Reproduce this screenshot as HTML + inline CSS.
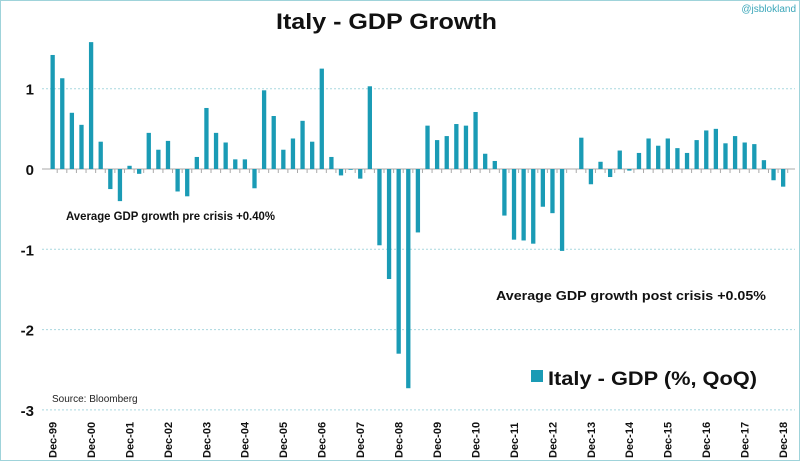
<!DOCTYPE html>
<html><head><meta charset="utf-8"><style>
body{margin:0;background:#fff;}
svg{display:block;font-family:"Liberation Sans",sans-serif;}
</style></head><body>
<svg id="c" width="800" height="461">
<rect x="0.5" y="0.5" width="799" height="460" fill="#fff" stroke="#9fd3da"/>
<text x="276" y="29" font-size="22" font-weight="bold" fill="#111" textLength="221" lengthAdjust="spacingAndGlyphs">Italy - GDP Growth</text>
<text x="796" y="12" text-anchor="end" font-size="10" fill="#3aa6b9">@jsblokland</text>
<g id="grid"></g><g id="bars"></g><g id="xl"></g>
<text x="66" y="220" font-size="12" font-weight="bold" fill="#111" textLength="209" lengthAdjust="spacingAndGlyphs">Average GDP growth pre crisis +0.40%</text>
<text x="496" y="300" font-size="12.5" font-weight="bold" fill="#111" textLength="270" lengthAdjust="spacingAndGlyphs">Average GDP growth post crisis +0.05%</text>
<rect x="531" y="370" width="12" height="12" fill="#1a9bb5"/>
<text x="548" y="385" font-size="19" font-weight="bold" fill="#111" textLength="209" lengthAdjust="spacingAndGlyphs">Italy - GDP (%, QoQ)</text>
<text x="52" y="402" font-size="10" fill="#222">Source: Bloomberg</text>
</svg>
<script>
const values=[1.42,1.13,0.70,0.55,1.58,0.34,-0.25,-0.40,0.04,-0.06,0.45,0.24,0.35,-0.28,-0.34,0.15,0.76,0.45,0.33,0.12,0.12,-0.24,0.98,0.66,0.24,0.38,0.60,0.34,1.25,0.15,-0.08,-0.01,-0.12,1.03,-0.95,-1.37,-2.30,-2.73,-0.79,0.54,0.36,0.41,0.56,0.54,0.71,0.19,0.10,-0.58,-0.88,-0.89,-0.93,-0.47,-0.55,-1.02,0.0,0.39,-0.19,0.09,-0.10,0.23,-0.02,0.20,0.38,0.29,0.38,0.26,0.20,0.36,0.48,0.50,0.32,0.41,0.33,0.31,0.11,-0.14,-0.22];
const yTicks=[1,0,-1,-2,-3];
const xLabels=["Dec-99","Dec-00","Dec-01","Dec-02","Dec-03","Dec-04","Dec-05","Dec-06","Dec-07","Dec-08","Dec-09","Dec-10","Dec-11","Dec-12","Dec-13","Dec-14","Dec-15","Dec-16","Dec-17","Dec-18"];
const NS="http://www.w3.org/2000/svg";
const y=v=>169-v*80.3;
const x=i=>52.5+i*(783-52.5)/(values.length-1);
function mk(t,a,p){const e=document.createElementNS(NS,t);for(const k in a)e.setAttribute(k,a[k]);p.appendChild(e);return e;}
const grid=document.getElementById('grid'),bars=document.getElementById('bars'),xl=document.getElementById('xl');
yTicks.forEach(t=>{
  if(t!==0){const l=mk('line',{x1:42,x2:795,y1:y(t),y2:y(t),stroke:'#a9d8df','stroke-dasharray':'2,2'},grid);
  
  }
  const tx=mk('text',{x:34,y:y(t)+6,'text-anchor':'end','font-size':15,'font-weight':'bold',fill:'#111'},grid);
  tx.textContent=t;
  
  
});
const ax=mk('line',{x1:42,x2:795,y1:y(0),y2:y(0),stroke:'#aaa'},grid);


values.forEach((v,i)=>{
  const tk=mk('line',{x1:x(i)+4.7,x2:x(i)+4.7,y1:y(0),y2:y(0)+4,stroke:'#aaa'},grid);
  
  
  const r=mk('rect',{x:x(i)-2,y:Math.min(y(v),y(0)),width:4.3,height:Math.abs(y(v)-y(0)),fill:'#1a9bb5'},bars);
  
  
});
xLabels.forEach((s,k)=>{
  const px=x(k*4)+4;
  const t=mk('text',{x:px,y:458,'font-size':11,'font-weight':'bold',fill:'#111',transform:`rotate(-90 ${px} 458)`},xl);
  t.textContent=s;
  
  
});
</script>
</body></html>
